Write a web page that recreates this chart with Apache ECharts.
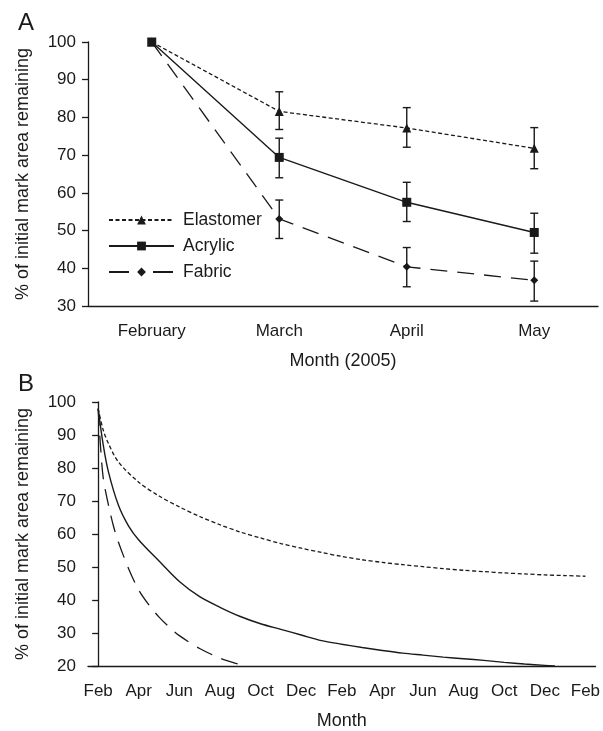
<!DOCTYPE html>
<html>
<head>
<meta charset="utf-8">
<script src="https://cdn.jsdelivr.net/npm/echarts@6/dist/echarts.min.js"></script>
<style>
  html, body { margin: 0; padding: 0; background: #fff; }
  #chart { width: 603px; height: 731px; }
</style>
</head>
<body>
<div id="chart"></div>
<script>
// panel A: measured means with error bars
var monthsA = ['February', 'March', 'April', 'May'];
var elastomer = [100, 81.6, 77.2, 71.8];
var elastomerHi = [null, 86.8, 82.6, 77.3];
var elastomerLo = [null, 76.8, 72.1, 66.4];
var acrylic = [100, 69.4, 57.5, 49.5];
var acrylicHi = [null, 74.5, 62.8, 54.6];
var acrylicLo = [null, 64.0, 52.4, 44.0];
var fabric = [100, 53.1, 40.4, 36.8];
var fabricHi = [null, 58.1, 45.5, 41.9];
var fabricLo = [null, 47.9, 35.1, 31.3];

// panel B: fitted decay curves (months after Feb)
var monthsB = ['Feb', 'Mar', 'Apr', 'May', 'Jun', 'Jul', 'Aug', 'Sep', 'Oct', 'Nov', 'Dec', 'Jan',
  'Feb', 'Mar', 'Apr', 'May', 'Jun', 'Jul', 'Aug', 'Sep', 'Oct', 'Nov', 'Dec', 'Jan', 'Feb'];
var elastomerFitX = [0, 0.25, 0.5, 1, 2, 3, 4, 5, 6, 7, 8, 9, 10, 11, 12, 13, 14, 15, 16, 17, 18, 19, 20, 21, 22, 23, 24];
var elastomerFitY = [98, 91.5, 87.5, 81.8, 75.7, 71.5, 68.2, 65.3, 62.8, 60.6, 58.8, 57.1, 55.7, 54.4, 53.2, 52.2, 51.4, 50.7, 50.1, 49.5, 49.0, 48.6, 48.2, 47.9, 47.6, 47.4, 47.2];
var acrylicFitX = [0, 0.25, 0.5, 1, 1.5, 2, 3, 4, 5, 6, 7, 8, 9, 10, 11, 12, 13, 14, 15, 16, 17, 18, 19, 20, 21, 22, 22.5];
var acrylicFitY = [98, 87, 79, 68.7, 62.4, 58.2, 51.8, 45.6, 41, 37.8, 35, 32.8, 31.1, 29.4, 27.7, 26.6, 25.6, 24.7, 23.9, 23.3, 22.7, 22.2, 21.7, 21.1, 20.6, 20.2, 20];
var fabricFitX = [0, 0.1, 0.25, 0.5, 0.75, 1, 1.5, 2, 2.5, 3, 3.5, 4, 5, 6, 7, 7.25];
var fabricFitY = [98, 88, 77, 69, 62.5, 57.5, 49.5, 43, 38.5, 34.8, 31.8, 29.2, 25.3, 22.4, 20.4, 20];

var ink = '#1a1a1a';
var font = 'Liberation Sans, Arial, sans-serif';
var shortDash = [4, 2.5];
var longDash = [17, 10];

function pairs(xs, ys) {
  var out = [];
  for (var i = 0; i < xs.length; i++) out.push([xs[i], ys[i]]);
  return out;
}

function bars(lo, hi) {
  var out = [];
  for (var i = 0; i < lo.length; i++) {
    if (lo[i] != null) out.push([i, lo[i], hi[i]]);
  }
  return out;
}

function errorBar(params, api) {
  var top = api.coord([api.value(0), api.value(2)]);
  var bot = api.coord([api.value(0), api.value(1)]);
  var w = 4;
  var st = { stroke: ink, lineWidth: 1.4 };
  return {
    type: 'group',
    children: [
      { type: 'line', shape: { x1: top[0], y1: top[1], x2: bot[0], y2: bot[1] }, style: st },
      { type: 'line', shape: { x1: top[0] - w, y1: top[1], x2: top[0] + w, y2: top[1] }, style: st },
      { type: 'line', shape: { x1: bot[0] - w, y1: bot[1], x2: bot[0] + w, y2: bot[1] }, style: st }
    ]
  };
}

function yAxisFor(grid, min) {
  return {
    gridIndex: grid,
    type: 'value',
    min: min,
    max: 100,
    interval: 10,
    name: '% of initial mark area remaining',
    nameLocation: 'middle',
    nameGap: 56,
    nameTextStyle: { color: ink, fontSize: 18, fontFamily: font },
    axisLine: { show: true, lineStyle: { color: ink, width: 1.3 } },
    axisTick: { show: true, length: 6, lineStyle: { color: ink, width: 1.3 } },
    axisLabel: { color: ink, fontSize: 17, fontFamily: font, margin: 12 },
    splitLine: { show: false }
  };
}

var chart = echarts.init(document.getElementById('chart'));
chart.setOption({
  animation: false,
  backgroundColor: '#fff',
  textStyle: { fontFamily: font },
  title: [
    { text: 'A', left: 13, top: 6, textStyle: { fontSize: 24, fontWeight: 'normal', color: ink } },
    { text: 'B', left: 13, top: 367, textStyle: { fontSize: 24, fontWeight: 'normal', color: ink } }
  ],
  legend: {
    orient: 'vertical',
    left: 108,
    top: 211,
    padding: 0,
    itemWidth: 65,
    itemHeight: 11,
    itemGap: 8,
    textStyle: { color: ink, fontSize: 17.5, lineHeight: 18, fontFamily: font, padding: [0, 0, 0, 4] },
    data: [
      { name: 'Elastomer' },
      { name: 'Acrylic' },
      { name: 'Fabric', lineStyle: { type: [20, 24] } }
    ]
  },
  grid: [
    { left: 88, top: 42, width: 510, height: 264 },
    { left: 88, top: 402, width: 511, height: 264 }
  ],
  xAxis: [
    {
      gridIndex: 0,
      type: 'category',
      data: monthsA,
      boundaryGap: true,
      name: 'Month (2005)',
      nameLocation: 'middle',
      nameGap: 46,
      nameTextStyle: { color: ink, fontSize: 18, fontFamily: font },
      axisLine: { lineStyle: { color: ink, width: 1.3 } },
      axisTick: { alignWithLabel: true, length: 6, lineStyle: { color: ink, width: 1.3 } },
      axisLabel: { color: ink, fontSize: 17, fontFamily: font, margin: 17 }
    },
    {
      gridIndex: 1,
      type: 'category',
      data: monthsB,
      boundaryGap: true,
      name: 'Month',
      nameLocation: 'middle',
      nameGap: 46,
      nameTextStyle: { color: ink, fontSize: 18, fontFamily: font },
      axisLine: { lineStyle: { color: ink, width: 1.3 } },
      axisTick: { alignWithLabel: true, interval: 0, length: 6, lineStyle: { color: ink, width: 1.3 } },
      axisLabel: { interval: 1, color: ink, fontSize: 17, fontFamily: font, margin: 17 }
    },
    {
      gridIndex: 1,
      type: 'value',
      min: -0.5,
      max: 24.5,
      show: false
    }
  ],
  yAxis: [yAxisFor(0, 30), yAxisFor(1, 20)],
  series: [
    {
      name: 'Fabric', type: 'line', xAxisIndex: 0, yAxisIndex: 0, data: fabric, z: 2,
      symbol: 'diamond', symbolSize: 8,
      lineStyle: { color: ink, width: 1.3, type: longDash },
      itemStyle: { color: ink }
    },
    {
      name: 'Elastomer', type: 'line', xAxisIndex: 0, yAxisIndex: 0, data: elastomer, z: 3,
      symbol: 'triangle', symbolSize: 9,
      lineStyle: { color: ink, width: 1.3, type: shortDash },
      itemStyle: { color: ink }
    },
    {
      name: 'Acrylic', type: 'line', xAxisIndex: 0, yAxisIndex: 0, data: acrylic, z: 4,
      symbol: 'rect', symbolSize: 9,
      lineStyle: { color: ink, width: 1.4, type: 'solid' },
      itemStyle: { color: ink }
    },
    { type: 'custom', xAxisIndex: 0, yAxisIndex: 0, renderItem: errorBar, data: bars(elastomerLo, elastomerHi), z: 5 },
    { type: 'custom', xAxisIndex: 0, yAxisIndex: 0, renderItem: errorBar, data: bars(acrylicLo, acrylicHi), z: 5 },
    { type: 'custom', xAxisIndex: 0, yAxisIndex: 0, renderItem: errorBar, data: bars(fabricLo, fabricHi), z: 5 },
    {
      name: 'Elastomer fit', type: 'line', xAxisIndex: 2, yAxisIndex: 1, data: pairs(elastomerFitX, elastomerFitY),
      showSymbol: false, smooth: 0.3,
      lineStyle: { color: ink, width: 1.3, type: shortDash }
    },
    {
      name: 'Acrylic fit', type: 'line', xAxisIndex: 2, yAxisIndex: 1, data: pairs(acrylicFitX, acrylicFitY),
      showSymbol: false, smooth: 0.3,
      lineStyle: { color: ink, width: 1.4, type: 'solid' }
    },
    {
      name: 'Fabric fit', type: 'line', xAxisIndex: 2, yAxisIndex: 1, data: pairs(fabricFitX, fabricFitY),
      showSymbol: false, smooth: 0.3,
      lineStyle: { color: ink, width: 1.3, type: longDash }
    }
  ]
});
</script>
</body>
</html>
